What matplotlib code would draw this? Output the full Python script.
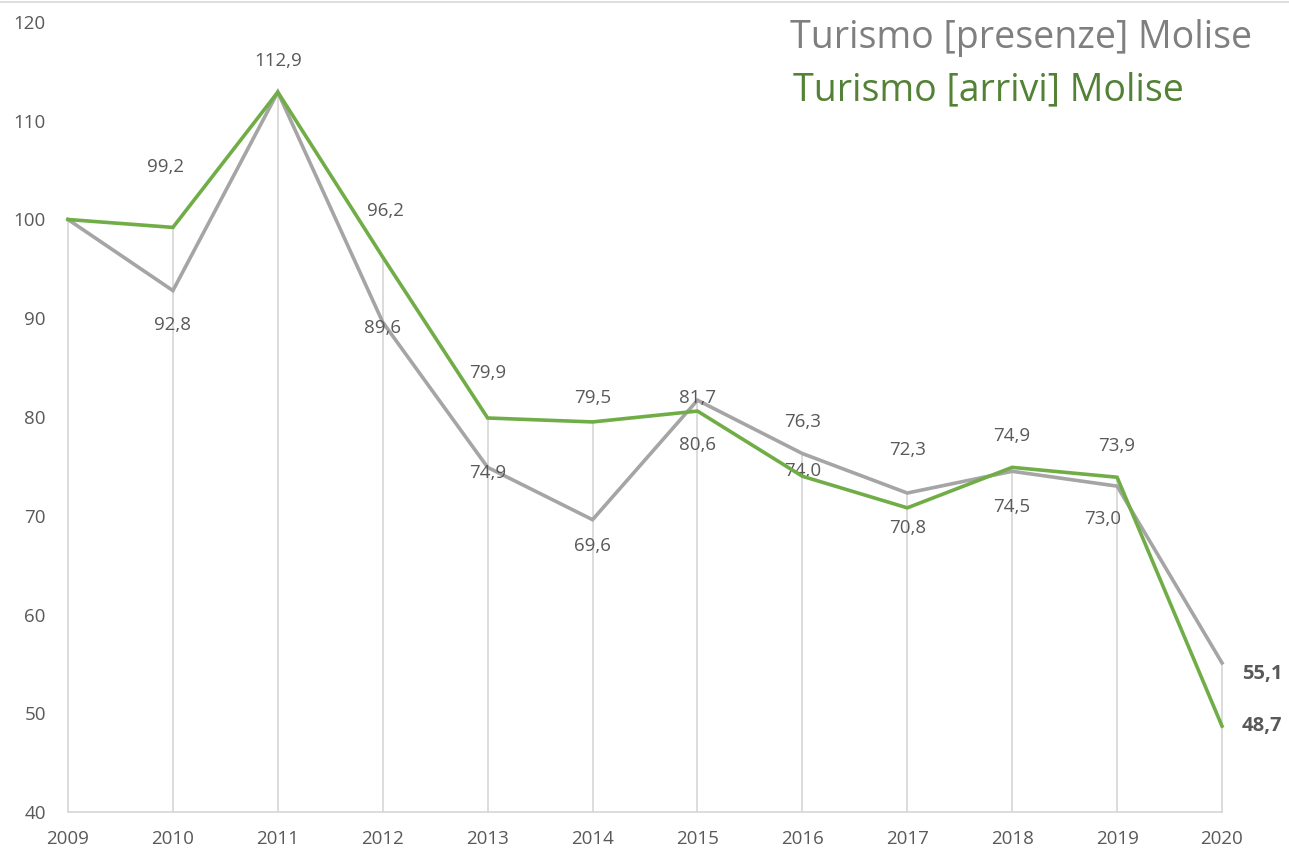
import matplotlib.pyplot as plt
from matplotlib.lines import Line2D

plt.rcParams['font.family'] = ['Open Sans', 'DejaVu Sans']

years = [2009, 2010, 2011, 2012, 2013, 2014, 2015, 2016, 2017, 2018, 2019, 2020]
presenze = [100, 92.8, 112.9, 89.6, 74.9, 69.6, 81.7, 76.3, 72.3, 74.5, 73.0, 55.1]
arrivi = [100, 99.2, 112.9, 96.2, 79.9, 79.5, 80.6, 74.0, 70.8, 74.9, 73.9, 48.7]

# label offsets in pixels (dx, dy) for each series
off_pres = [None, (0, -34), (0, 31), (0, -6), (0, -6), (0, -26), (0, 2), (0, 32), (0, 43), (0, -36), (-14, -33), None]
off_arr = [None, (-7, 60), None, (3, 46), (0, 45), (0, 24), (0, -34), (0, 5), (0, -20), (0, 31), (0, 31), None]

grey = "#a5a5a5"
green = "#70ad47"
txt = "#595959"

fig = plt.figure(figsize=(12.89, 8.5), dpi=100)
ax = fig.add_axes([68/1289, 38/850, (1222-68)/1289, (812-22)/850])

for x, a, b in zip(years, presenze, arrivi):
    ax.plot([x, x], [40, max(a, b)], color="#d9d9d9", lw=1.3, zorder=1, clip_on=False)

ax.plot(years, presenze, color=grey, lw=2.6, zorder=3, clip_on=False, solid_joinstyle='miter')
ax.plot(years, arrivi, color=green, lw=2.6, zorder=4, clip_on=False, solid_joinstyle='miter')

def fmt(v):
    return f"{v:.1f}".replace(".", ",")

for i, x in enumerate(years):
    if off_pres[i] is not None:
        ax.annotate(fmt(presenze[i]), (x, presenze[i]), xytext=off_pres[i], textcoords="offset pixels",
                    ha="center", va="center", fontsize=13.5, color=txt)
    if off_arr[i] is not None:
        ax.annotate(fmt(arrivi[i]), (x, arrivi[i]), xytext=off_arr[i], textcoords="offset pixels",
                    ha="center", va="center", fontsize=13.5, color=txt)

ax.annotate(fmt(presenze[-1]), (years[-1], presenze[-1]), xytext=(40, -11), textcoords="offset pixels",
            ha="center", va="center", fontsize=14.5, fontweight="bold", color=txt)
ax.annotate(fmt(arrivi[-1]), (years[-1], arrivi[-1]), xytext=(40, 0), textcoords="offset pixels",
            ha="center", va="center", fontsize=14.5, fontweight="bold", color=txt)

ax.set_xlim(2009, 2020)
ax.set_ylim(40, 120)
ax.set_xticks(years)
ax.set_yticks(range(40, 121, 10))
ax.tick_params(axis="both", length=0, labelsize=13.5, labelcolor=txt)
ax.tick_params(axis="y", pad=16)
ax.tick_params(axis="x", pad=13)
for s in ["top", "right", "left"]:
    ax.spines[s].set_visible(False)
ax.spines["bottom"].set_color("#d9d9d9")
ax.spines["bottom"].set_linewidth(1.3)

fig.text(1252/1289, 1 - 38/850, "Turismo [presenze] Molise", ha="right", va="center", fontsize=27, color="#7f7f7f")
fig.text(1184/1289, 1 - 90/850, "Turismo [arrivi] Molise", ha="right", va="center", fontsize=27, color="#538135")

fig.add_artist(Line2D([0, 1], [1 - 2/850, 1 - 2/850], color="#d9d9d9", lw=1.2))

fig.savefig("out.png", dpi=100)
